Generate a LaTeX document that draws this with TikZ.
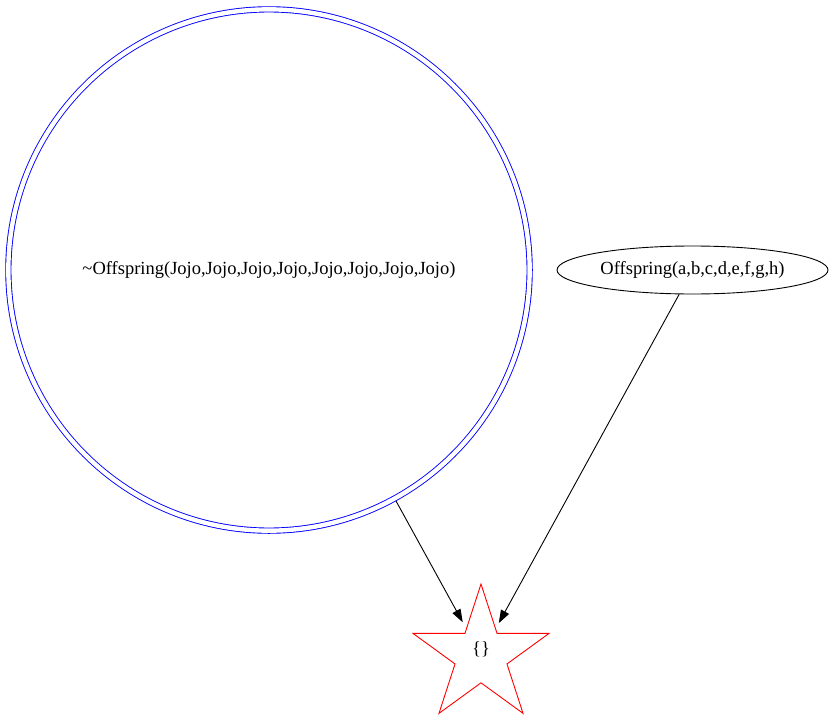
\documentclass[tikz,border=0pt]{standalone}
\usepackage{fontspec}
\setmainfont{Liberation Serif}
\usetikzlibrary{arrows.meta,shapes.geometric}
\tikzset{
  lbl/.style={font=\fontsize{18.5}{21}\selectfont, inner sep=0pt},
  link/.style={draw=black, line width=0.9pt, -{Triangle[length=13pt,width=9pt]}}
}

\begin{document}
\begin{tikzpicture}[x=1pt,y=-1pt]
\useasboundingbox (0,0) rectangle (833,720);

\node[circle, draw=blue, line width=0.9pt, double=white, double distance=4.4pt,
      minimum size=521.3pt, inner sep=0pt, lbl] (neg) at (269,270)
      {\textasciitilde Offspring(Jojo,Jojo,Jojo,Jojo,Jojo,Jojo,Jojo,Jojo)};
\node[ellipse, draw=black, line width=0.9pt, minimum width=271pt,
      minimum height=48pt, inner sep=0pt, lbl] (pos) at (692.5,270)
      {Offspring(a,b,c,d,e,f,g,h)};

% empty clause
\node[star, star points=5, star point ratio=2.618, draw=red, line width=0.9pt,
      minimum size=143pt, inner sep=0pt] (nil) at (481,655.5) {};
\node[lbl] (nilt) at (481,649) {\{\}};

\draw[link, shorten <=2.7pt, shorten >=7pt] (neg) -- (nil);
\draw[link, shorten >=6pt] (pos) -- (nil);

\end{tikzpicture}
\end{document}
